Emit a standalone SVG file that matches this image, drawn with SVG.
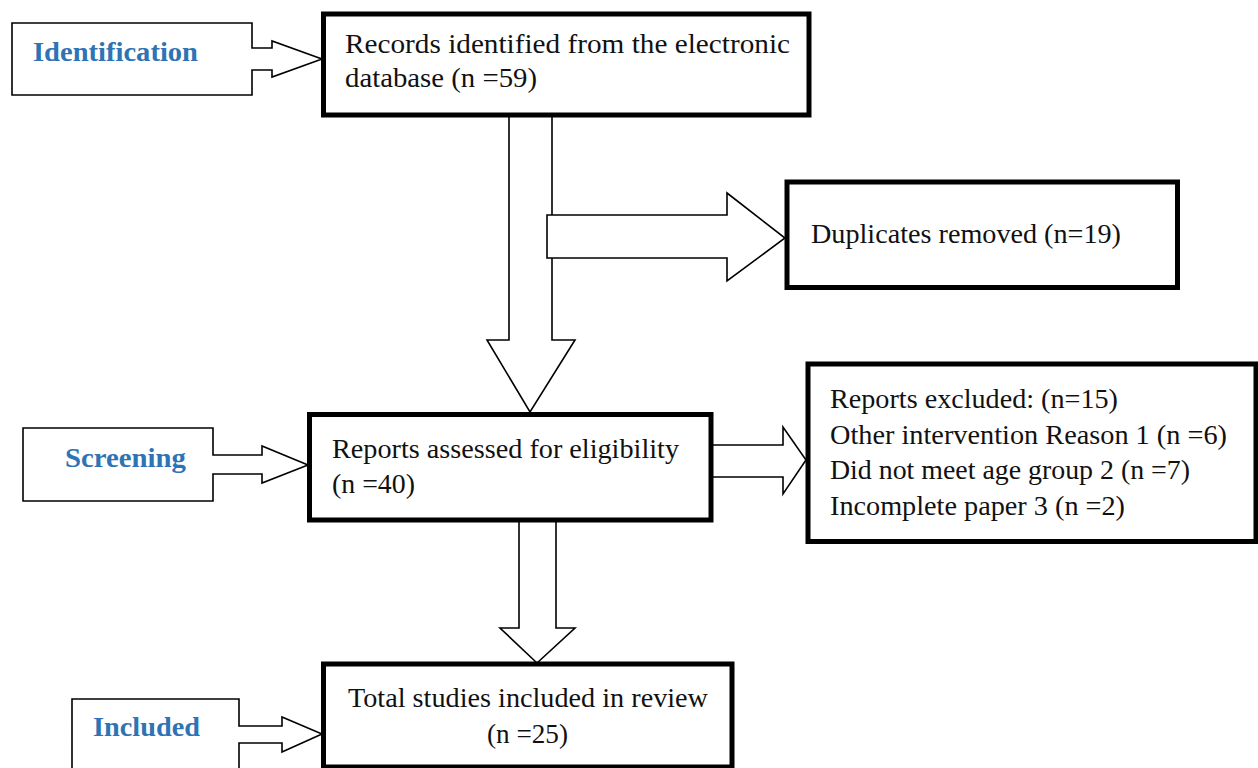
<svg xmlns="http://www.w3.org/2000/svg" width="1258" height="768" viewBox="0 0 1258 768">
<style>
.bg{fill:#ffffff}
.box{fill:#ffffff;stroke:#000000;stroke-width:5}
.lbl{fill:#ffffff;stroke:#000000;stroke-width:1.6;stroke-linejoin:miter}
.arr{fill:#ffffff;stroke:#000000;stroke-width:1.6;stroke-linejoin:miter}
.t{font-family:"Liberation Serif","Times New Roman",serif;font-size:27px;fill:#111111}
.h{font-family:"Liberation Serif","Times New Roman",serif;font-size:28px;font-weight:bold;fill:#2E74B5}
</style>
<rect class="bg" x="0" y="0" width="1258" height="768"/>
<g id="connectors">
<path class="arr" d="M509,116 V340 H487 L530,412 L575,340 H552 V116 Z"/>
<path class="arr" d="M547,215 H727 V193 L785,238 L727,281 V258 H547 Z"/>
<path class="arr" d="M711,445 H783 V427 L806,460 L783,494 V477 H711 Z"/>
<path class="arr" d="M519,520 V628 H500 L537,663 L575,628 H556 V520 Z"/>
</g>
<g id="identification">
<path class="lbl" d="M12,23 H252 V48 H272 V41 L322,59 L272,77 V70 H252 V95 H12 Z"/>
<text class="h" x="33" y="61" textLength="165" lengthAdjust="spacingAndGlyphs">Identification</text>
</g>
<g id="screening">
<path class="lbl" d="M23,428 H213 V455 H262 V446 L308,465 L262,483 V474 H213 V501 H23 Z"/>
<text class="h" x="65" y="467" textLength="121" lengthAdjust="spacingAndGlyphs">Screening</text>
</g>
<g id="included">
<path class="lbl" d="M72,775 V699 H239 V726 H282 V717 L322,734 L282,752 V743 H239 V775"/>
<text class="h" x="93" y="736" textLength="107" lengthAdjust="spacingAndGlyphs">Included</text>
</g>
<g id="records">
<rect class="box" x="323.5" y="14" width="485.5" height="101"/>
<text class="t" x="345" y="53" textLength="445" lengthAdjust="spacingAndGlyphs">Records identified from the electronic</text>
<text class="t" x="345" y="87" textLength="192" lengthAdjust="spacingAndGlyphs">database (n =59)</text>
</g>
<g id="duplicates">
<rect class="box" x="787" y="182" width="390.5" height="105.5"/>
<text class="t" x="811" y="243" textLength="310" lengthAdjust="spacingAndGlyphs">Duplicates removed (n=19)</text>
</g>
<g id="reports">
<rect class="box" x="309.5" y="414.5" width="401.5" height="105.5"/>
<text class="t" x="332" y="458" textLength="347" lengthAdjust="spacingAndGlyphs">Reports assessed for eligibility</text>
<text class="t" x="332" y="493" textLength="83" lengthAdjust="spacingAndGlyphs">(n =40)</text>
</g>
<g id="excluded">
<rect class="box" x="808" y="364" width="448" height="177.5"/>
<text class="t" x="830" y="408" textLength="288" lengthAdjust="spacingAndGlyphs">Reports excluded: (n=15)</text>
<text class="t" x="830" y="444" textLength="397" lengthAdjust="spacingAndGlyphs">Other intervention Reason 1 (n =6)</text>
<text class="t" x="830" y="479" textLength="360" lengthAdjust="spacingAndGlyphs">Did not meet age group 2 (n =7)</text>
<text class="t" x="830" y="515" textLength="295" lengthAdjust="spacingAndGlyphs">Incomplete paper 3 (n =2)</text>
</g>
<g id="total">
<rect class="box" x="323.5" y="664" width="408.5" height="103"/>
<text class="t" x="348" y="707" textLength="360" lengthAdjust="spacingAndGlyphs">Total studies included in review</text>
<text class="t" x="487" y="743" textLength="81" lengthAdjust="spacingAndGlyphs">(n =25)</text>
</g>
</svg>
